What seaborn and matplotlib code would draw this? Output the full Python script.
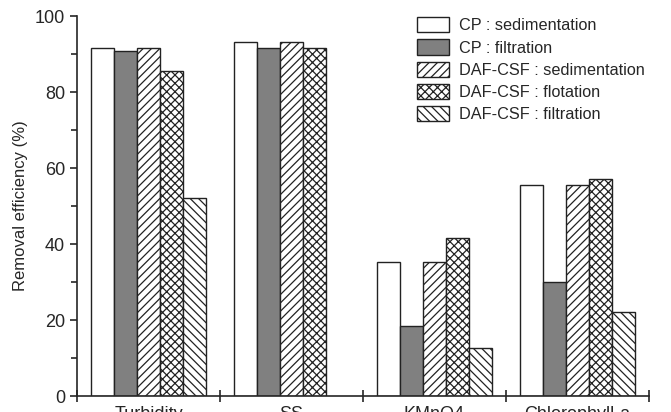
import pandas as pd
import numpy as np
import seaborn as sns
import matplotlib.pyplot as plt
from matplotlib.ticker import MultipleLocator

parameters = ["Turbidity", "SS", "KMnO4", "Chlorophyll-a"]
processes = ["CP : sedimentation", "CP : filtration", "DAF-CSF : sedimentation",
             "DAF-CSF : flotation", "DAF-CSF : filtration"]

cp_sed = [91.7, 93.3, 35.2, 55.6]
cp_filt = [90.8, 91.5, 18.4, 30.1]
daf_sed = [91.7, 93.3, 35.2, 55.6]
daf_flot = [85.6, 91.5, 41.6, 57.0]
daf_filt = [52.0, np.nan, 12.6, 22.0]

series = [cp_sed, cp_filt, daf_sed, daf_flot, daf_filt]
rows = []
for proc, vals in zip(processes, series):
    for par, v in zip(parameters, vals):
        rows.append({"parameter": par, "process": proc, "value": v})
df = pd.DataFrame(rows)

colors = ["white", "#808080", "white", "white", "white"]
hatches = ["", "", "////", "xxxx", "\\\\\\\\"]

sns.set_style("ticks")
plt.rcParams["font.family"] = ["Liberation Sans", "DejaVu Sans"]
plt.rcParams["hatch.linewidth"] = 0.9

fig = plt.figure(figsize=(6.71, 4.12), dpi=100)
ax = fig.add_axes([0.1148, 0.0388, 0.967 - 0.1148, 0.961 - 0.0388])

sns.barplot(data=df, x="parameter", y="value", hue="process", order=parameters,
            hue_order=processes, width=0.8, ax=ax, edgecolor="black", linewidth=1.0,
            legend=False)

handles = []
for cont, c, h in zip(ax.containers, colors, hatches):
    for p in cont:
        p.set_facecolor(c)
        p.set_edgecolor("#222222")
        p.set_hatch(h)
    handles.append(cont.patches[0])

ax.set_ylim(0, 100)
ax.set_xlim(-0.5, 3.5)
ax.yaxis.set_major_locator(MultipleLocator(20))
ax.yaxis.set_minor_locator(MultipleLocator(10))
ax.set_xticks([-0.5, 0.5, 1.5, 2.5, 3.5])
ax.set_xticklabels([])
ax.set_xticks([0, 1, 2, 3], minor=True)
ax.set_xticklabels(parameters, minor=True, fontsize=13)
ax.tick_params(axis="x", which="major", direction="inout", length=9, width=1.2)
ax.tick_params(axis="x", which="minor", length=0, pad=7.5)
ax.tick_params(axis="y", which="major", direction="out", length=5, width=1.2, labelsize=13)
ax.tick_params(axis="y", which="minor", direction="out", length=4, width=1.2)
ax.set_xlabel("")
ax.set_ylabel("Removal efficiency (%)", fontsize=12, labelpad=5)
for s in ["top", "right"]:
    ax.spines[s].set_visible(False)
for s in ["left", "bottom"]:
    ax.spines[s].set_linewidth(1.2)

ax.legend(handles, processes, loc="upper left", bbox_to_anchor=(0.594, 0.997),
          frameon=False, fontsize=11.7, handlelength=2.0, handleheight=1.05,
          labelspacing=0.38, handletextpad=0.6, borderaxespad=0, borderpad=0)

fig.savefig("out.png", dpi=100)
